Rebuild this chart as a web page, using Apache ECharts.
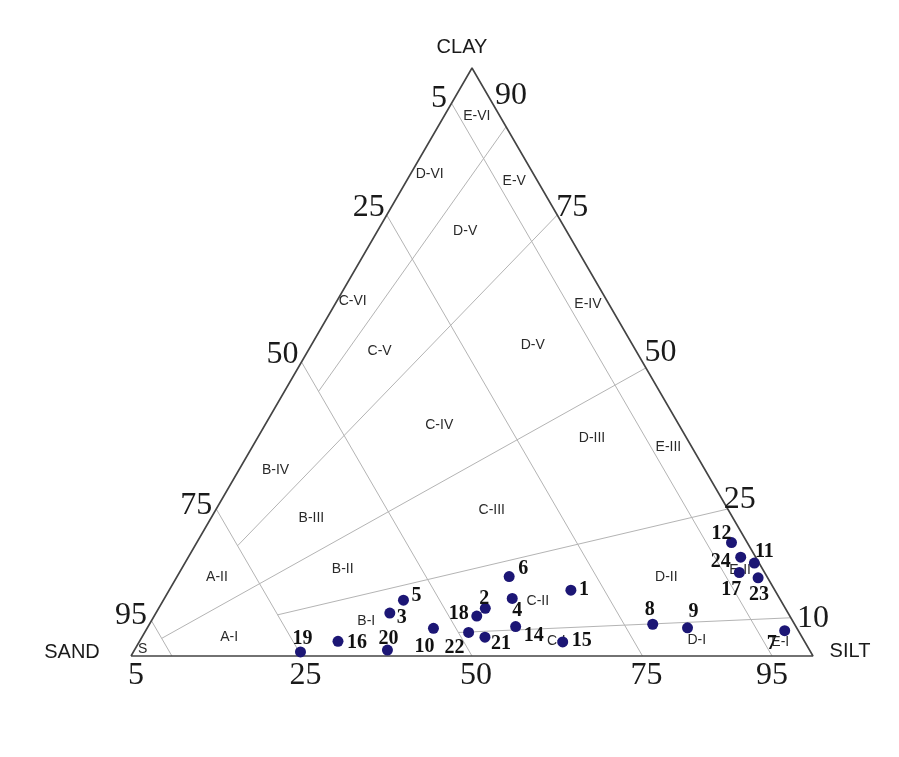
<!DOCTYPE html>
<html><head><meta charset="utf-8">
<script src="https://cdn.jsdelivr.net/npm/echarts@6/dist/echarts.min.js"></script>
<style>html,body{margin:0;padding:0;background:#fff}#c{width:899px;height:757px}</style>
</head><body><div id="c"></div>
<script>
// ---- Sample data (percent sand / silt / clay) ----
const sampleIds = [1, 2, 3, 4, 5, 6, 7, 8, 9, 10, 11, 12, 14, 15, 16, 17, 18, 19, 20, 21, 22, 23, 24];
const sandPct  = [29.9, 44.0, 58.4, 39.2, 55.3, 37.8, 2.0, 20.8, 16.0, 53.3, 0.7, 2.3, 41.1, 35.5, 68.4, 3.7, 45.9, 74.8, 61.9, 46.5, 48.5, 1.4, 2.2];
const siltPct  = [58.9, 47.9, 34.3, 51.0, 35.2, 48.7, 93.7, 73.8, 79.2, 42.0, 83.5, 78.4, 53.9, 62.1, 29.1, 82.1, 47.3, 24.5, 37.1, 50.3, 47.5, 85.3, 81.0];
const clayPct  = [11.2, 8.1, 7.3, 9.8, 9.5, 13.5, 4.3, 5.4, 4.8, 4.7, 15.8, 19.3, 5.0, 2.4, 2.5, 14.2, 6.8, 0.7, 1.0, 3.2, 4.0, 13.3, 16.8];

// ---- Classification boundaries ----
// lines of constant sand content (%)
const sandLines = [94, 75, 50, 25, 6];
// lines from the silt-clay side inward: [clay at side, silt at side] -> [sand, silt, clay] at inner end
const ratioLineSide  = [[90, 10], [75, 25], [49, 51], [25, 75], [6.5, 93.5]];
const ratioLineInner = [[50, 5, 45], [75, 6.25, 18.75], [94, 3, 3], [75, 18, 7], [50, 46, 4]];

// ---- Class names and their label locations (sand, silt, clay %) ----
const classNames = ['E-VI','D-VI','E-V','D-V','C-VI','E-IV','C-V','D-V','C-IV','D-III','E-III','B-IV','B-III','C-III','A-II','B-II','D-II','E-II','C-II','B-I','A-I','C-I','D-I','E-I','S'];
const classSand = [3.4, 15.2, 3.4, 14.9, 37.3, 3.1, 37.6, 14.7, 35.2, 13.9, 3.4, 63.0, 61.8, 34.7, 80.7, 61.6, 14.8, 3.4, 35.7, 62.5, 84.0, 36.4, 15.7, 3.6, 97.7];
const classSilt = [4.8, 2.8, 15.8, 12.9, 2.3, 37.1, 10.5, 32.5, 25.6, 49.1, 61.0, 5.4, 14.7, 40.5, 5.9, 23.7, 71.8, 82.0, 55.0, 31.5, 12.8, 61.1, 81.6, 94.0, 1.1];
const classClay = [91.8, 82.0, 80.8, 72.2, 60.4, 59.8, 51.9, 52.8, 39.2, 37.0, 35.6, 31.6, 23.5, 24.8, 13.4, 14.7, 13.4, 14.6, 9.3, 6.0, 3.2, 2.5, 2.7, 2.4, 1.2];

// ---- Tick labels ----
const leftTicks = [95, 75, 50, 25, 5];     // sand %, placed where sand line meets SAND-CLAY side
const rightTicks = [10, 25, 50, 75, 90];   // clay %, on SILT-CLAY side
const bottomTicks = [5, 25, 50, 75, 95];   // silt %, on SAND-SILT side

// ---- layout (pixel nudges for labels, not data) ----
const leftNudge = [[-1, -11], [-4, -3], [-3, -7], [-2, -7], [-8, 1]];
const rightNudge = [[18, 21], [-4, -9], [2, -9], [-1, -7], [-11, -31]];
const bottomNudge = [[-29, 20], [4, 20], [4, 20], [4, 20], [-7, 20]];
const pointLabelOffset = {
  1:[13,0], 2:[-1,-10], 3:[12,5], 4:[5,12], 5:[13,-4], 6:[14,-8], 7:[-13,13], 8:[-3,-14],
  9:[6,-16], 10:[-9,18], 11:[10,-11], 12:[-10,-9], 14:[18,9], 15:[19,-1], 16:[19,2],
  17:[-8,17], 18:[-18,-2], 19:[2,-13], 20:[1,-11], 21:[16,7], 22:[-14,15], 23:[1,17], 24:[-20,5]
};

const H = Math.sqrt(3) / 2 * 100;
function tern(sand, silt, clay) {
  const t = sand + silt + clay;
  const si = silt / t * 100, cl = clay / t * 100;
  return [si + cl / 2, cl * Math.sqrt(3) / 2];
}

const series = [];
// inner boundary lines
const lineStyleThin = { color: '#b4b4b4', width: 1 };
sandLines.forEach(v => {
  series.push({ type: 'line', data: [tern(v, 0, 100 - v), tern(v, 100 - v, 0)], showSymbol: false,
    symbol: 'none', lineStyle: lineStyleThin, silent: true, z: 1, clip: false });
});
ratioLineSide.forEach((s, i) => {
  const inner = ratioLineInner[i];
  series.push({ type: 'line', data: [tern(0, s[1], s[0]), tern(inner[0], inner[1], inner[2])], showSymbol: false,
    symbol: 'none', lineStyle: lineStyleThin, silent: true, z: 1, clip: false });
});
// triangle outline
series.push({ type: 'line', data: [tern(100,0,0), tern(0,100,0), tern(0,0,100), tern(100,0,0)], showSymbol: false,
  symbol: 'none', lineStyle: { color: '#444', width: 1.6 }, silent: true, z: 2, clip: false });

// class labels
series.push({
  type: 'scatter', symbolSize: 1, itemStyle: { color: 'rgba(0,0,0,0)', opacity: 1 }, silent: true, z: 3, clip: false,
  data: classNames.map((n, i) => ({ value: tern(classSand[i], classSilt[i], classClay[i]), name: n })),
  label: { show: true, position: 'inside', formatter: p => p.name, color: '#2a2a2a', opacity: 1,
    fontFamily: 'Liberation Sans, Arial, sans-serif', fontSize: 14 }
});

// tick labels
const tickFont = { color: '#1a1a1a', opacity: 1, fontFamily: 'Liberation Serif, Times New Roman, serif', fontSize: 32 };
const tickData = [];
leftTicks.forEach((v, i) => tickData.push({ value: tern(v, 0, 100 - v), name: String(v),
  label: Object.assign({ align: 'right', offset: leftNudge[i] }, tickFont) }));
rightTicks.forEach((v, i) => tickData.push({ value: tern(0, 100 - v, v), name: String(v),
  label: Object.assign({ align: 'left', offset: rightNudge[i] }, tickFont) }));
bottomTicks.forEach((v, i) => tickData.push({ value: tern(100 - v, v, 0), name: String(v),
  label: Object.assign({ align: 'center', offset: bottomNudge[i] }, tickFont) }));
// axis titles
const titleFont = { color: '#1a1a1a', opacity: 1, fontFamily: 'Liberation Sans, Arial, sans-serif', fontSize: 20 };
tickData.push({ value: tern(0,0,100), name: 'CLAY', label: Object.assign({ align: 'center', offset: [-10, -21] }, titleFont) });
tickData.push({ value: tern(100,0,0), name: 'SAND', label: Object.assign({ align: 'center', offset: [-59, -4] }, titleFont) });
tickData.push({ value: tern(0,100,0), name: 'SILT', label: Object.assign({ align: 'center', offset: [37, -5] }, titleFont) });
series.push({
  type: 'scatter', symbolSize: 1, itemStyle: { color: 'rgba(0,0,0,0)', opacity: 1 }, silent: true, z: 3, clip: false,
  data: tickData,
  label: { show: true, position: 'inside', formatter: p => p.name, verticalAlign: 'middle' }
});

// samples
series.push({
  type: 'scatter', symbol: 'circle', symbolSize: 11, itemStyle: { color: '#1c1675', opacity: 1 }, z: 5, clip: false,
  data: sampleIds.map((id, i) => ({ value: tern(sandPct[i], siltPct[i], clayPct[i]), name: String(id),
    label: { offset: pointLabelOffset[id] } })),
  label: { show: true, position: 'inside', formatter: p => p.name, color: '#111', opacity: 1,
    fontFamily: 'Liberation Serif, Times New Roman, serif', fontWeight: 'bold', fontSize: 20 }
});

const chart = echarts.init(document.getElementById('c'), null, { renderer: 'canvas' });
chart.setOption({
  animation: false,
  backgroundColor: '#fff',
  grid: { left: 131, right: 86, top: 68, bottom: 101 },
  xAxis: { type: 'value', min: 0, max: 100, show: false },
  yAxis: { type: 'value', min: 0, max: H, show: false },
  tooltip: { show: false },
  series: series
});
</script></body></html>
